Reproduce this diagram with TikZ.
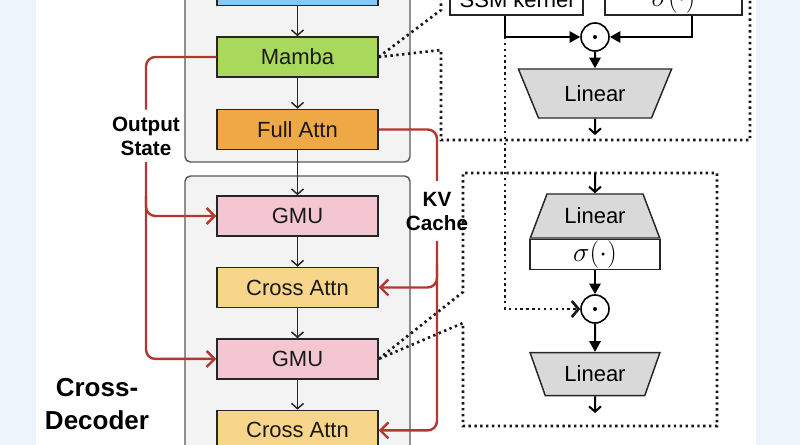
\documentclass[tikz,border=0pt]{standalone}
\usepackage{fontspec}
\setmainfont{Liberation Sans}
\usepackage{tikz}
\usetikzlibrary{shapes.geometric, arrows.meta, positioning}

\definecolor{bgblue}{HTML}{EEF4FC}
\definecolor{ssmblue}{HTML}{88C9F3}
\definecolor{mambagreen}{HTML}{A9D95C}
\definecolor{attnorange}{HTML}{EFA846}
\definecolor{gmupink}{HTML}{F3C6D2}
\definecolor{crossyellow}{HTML}{F7D58A}
\definecolor{boxgray}{HTML}{F3F3F3}
\definecolor{kvred}{HTML}{B5362F}
\definecolor{lingray}{HTML}{D9D9D9}

\newcommand{\boxfont}{\fontsize{16.5}{19}\selectfont}
\newcommand{\sigfont}{\fontsize{20}{22}\selectfont}

\tikzstyle{block}=[rectangle, draw=black!85, line width=1.1pt,
                   minimum width=120.75pt, minimum height=30pt,
                   inner sep=0pt, font=\boxfont, text=black!90]
\tikzstyle{container}=[draw=black!65, line width=1.1pt, fill=boxgray,
                       rounded corners=4pt]
\tikzstyle{arrow}=[-{Straight Barb[length=4pt,width=9pt]}, line width=1.1pt,
                   color=black!85]
\tikzstyle{redarrow}=[line width=1.8pt, color=kvred, rounded corners=7pt]
\tikzstyle{redtip}=[-{Straight Barb[length=6pt,width=12pt]}]
\tikzstyle{sidelabel}=[font=\bfseries\fontsize{15.5}{18}\selectfont,
                       align=center, inner sep=5pt]
\tikzstyle{zoomline}=[line width=2pt, dash pattern=on 1.8pt off 2.6pt,
                      color=black!90]
\tikzstyle{opbox}=[rectangle, draw=black!85, line width=1.1pt, fill=white,
                   minimum height=22.5pt, inner sep=0pt, font=\boxfont]
\tikzstyle{linear}=[trapezium, trapezium stretches=true, draw=black!85,
                    line width=1.1pt, fill=lingray, inner sep=0pt, font=\boxfont]
\tikzstyle{mul}=[circle, draw=black, line width=1.2pt, fill=white,
                 minimum size=21pt, inner sep=0pt]
\tikzstyle{wire}=[line width=1.5pt, color=black]
\tikzstyle{filltip}=[-{Triangle[length=8pt,width=8.5pt]}]
\tikzstyle{opentip}=[-{Straight Barb[length=4pt,width=9pt]}]

\begin{document}
\begin{tikzpicture}[x=0.75pt, y=-0.75pt]
  \useasboundingbox (0,0) rectangle (800,445);
  \clip (0,0) rectangle (800,445);
  \fill[bgblue] (0,0) rectangle (800,445);
  \fill[white] (36,0) rectangle (756,445);

  % Containers
  \draw[container] (185,-60) rectangle (410,162);
  \draw[container] (185,176) rectangle (410,500);

  % Self-decoder stack
  \node[block, fill=mambagreen] (mamba) at (297.5,57) {Mamba};
  \node[block, fill=ssmblue, above=22.5pt of mamba] (ssmin) {};
  \node[block, fill=attnorange, below=23.25pt of mamba] (fullattn) {Full Attn};

  % Cross-decoder stack
  \node[block, fill=gmupink] (gmua) at (297.5,216) {GMU};
  \node[block, fill=crossyellow, below=22.5pt of gmua] (crossa) {Cross Attn};
  \node[block, fill=gmupink, below=22.5pt of crossa] (gmub) {GMU};
  \node[block, fill=crossyellow, below=22.5pt of gmub] (crossb) {Cross Attn};

  % Labels
  \node[sidelabel] (outstate) at (146,136) {Output\\State};
  \node[sidelabel, inner sep=8pt] (kvcache) at (437,211) {KV\\Cache};
  \node[font=\bfseries\fontsize{19.5}{25}\selectfont, align=center]
        (crossdec) at (97,404) {Cross-\\Decoder};

  % Mamba detail
  \coordinate (mz1) at (441,10);
  \coordinate (mz2) at (441,50);
  \draw[zoomline] (mamba.east) -- (mz1) -- (441,-60);
  \draw[zoomline] (mamba.east) -- (mz2) -- (441,140) -- (750,140) -- (750,-60);

  \node[opbox, minimum width=99.75pt] (ssm) at (516.5,0) {SSM kernel};
  \node[opbox, minimum width=102.75pt, font=\sigfont] (sigup) at (673.5,0) {$\sigma(\cdot)$};
  \node[mul] (mulup) at (595,37) {};
  \fill (mulup) circle (1.5pt);
  \coordinate (tap) at (505,37);
  \coordinate (sigtap) at (692,37);
  \draw[wire, filltip] (ssm.south -| tap) |- (mulup.west);
  \draw[wire, filltip] (sigup.south -| sigtap) |- (mulup.east);
  \node[linear, trapezium left angle=56, trapezium right angle=56,
        shape border rotate=180, minimum width=115.5pt,
        minimum height=36.75pt] (linup) at (595,93.5) {Linear};
  \coordinate (outup) at (595,135);
  \draw[wire, filltip] (mulup) -- (linup);
  \draw[wire, opentip] (linup) -- (outup);

  % GMU detail
  \coordinate (gz1) at (463,292);
  \coordinate (gz2) at (463,323);
  \draw[zoomline] (gmub.east) -- (gz1) -- (463,173) -- (717,173)
                  -- (717,426) -- (463,426) -- (gz2) -- (gmub.east);

  \coordinate (inlow) at (595,173);
  \node[linear, trapezium left angle=56.6, trapezium right angle=56.6,
        minimum width=97.5pt, minimum height=33pt] (linmid) at (595,216) {Linear};
  \node[opbox, minimum width=97.5pt, font=\sigfont, below=0pt of linmid] (siglow) {$\sigma(\cdot)$};
  \node[mul, below=18pt of siglow] (mullow) {};
  \fill (mullow) circle (1.5pt);
  \node[linear, trapezium left angle=60, trapezium right angle=60,
        shape border rotate=180, minimum width=97.5pt,
        minimum height=32.25pt, below=21pt of mullow] (linlow) {Linear};
  \coordinate (outlow) at (595,413);
  \draw[wire, opentip] (inlow) -- (linmid);
  \draw[wire, filltip] (siglow) -- (mullow);
  \draw[wire, filltip] (mullow) -- (linlow);
  \draw[wire, opentip] (linlow) -- (outlow);
  \draw[zoomline, -{Straight Barb[length=5pt,width=12pt]}] (tap) |- (mullow.west);

  % Arrows
  \draw[arrow] (ssmin) -- (mamba);
  \draw[arrow] (mamba) -- (fullattn);
  \draw[arrow] (fullattn) -- (gmua);
  \draw[arrow] (gmua) -- (crossa);
  \draw[arrow] (crossa) -- (gmub);
  \draw[arrow] (gmub) -- (crossb);

  % Output state
  \coordinate (osfork) at (146,196);
  \draw[redarrow] (mamba.west) -| (outstate.north);
  \draw[redarrow, redtip] (outstate.south) |- (gmub.west);
  \draw[redarrow, redtip] (osfork) |- (gmua.west);

  % KV cache
  \coordinate (kvfork) at (437,264);
  \draw[redarrow] (fullattn.east) -| (kvcache.north);
  \draw[redarrow, redtip] (kvcache.south) |- (crossb.east);
  \draw[redarrow, redtip] (kvfork) |- (crossa.east);
\end{tikzpicture}
\end{document}
